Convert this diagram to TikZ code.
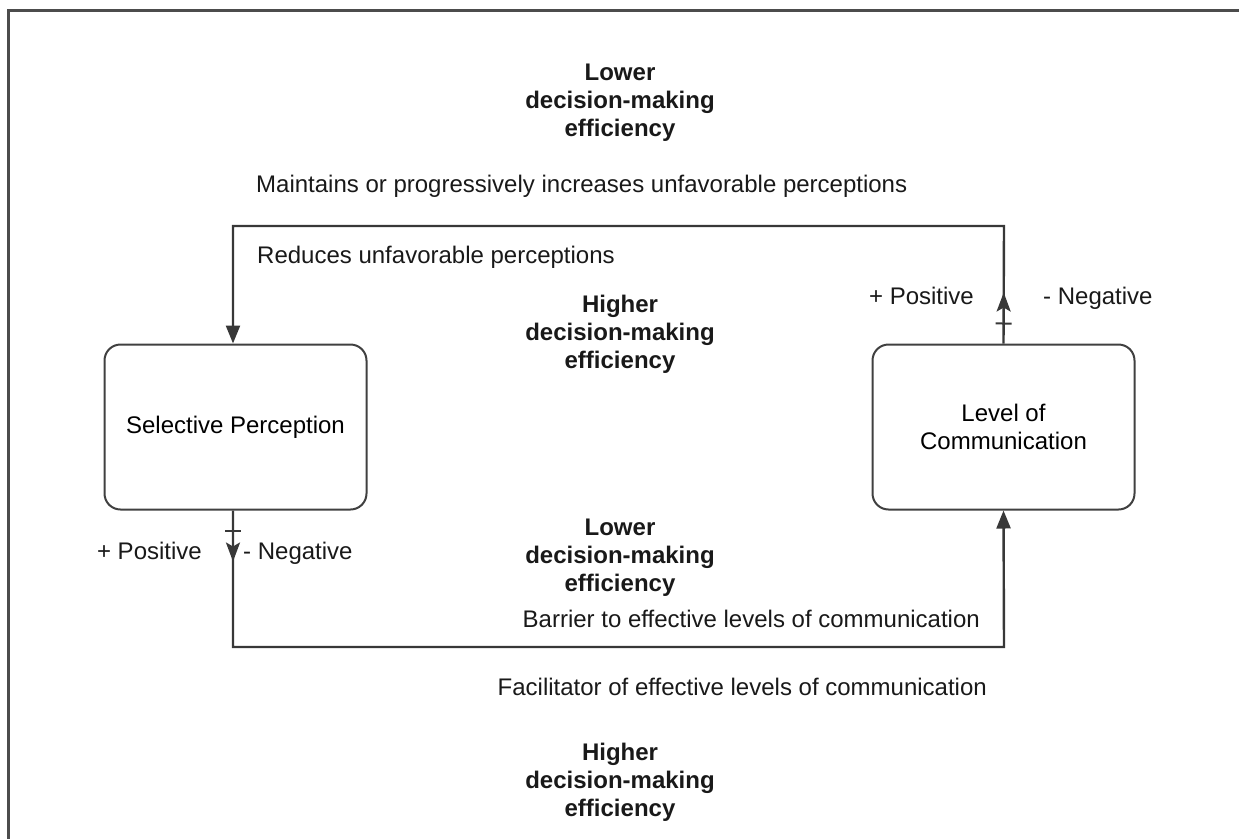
\documentclass[tikz,border=0pt]{standalone}
\usepackage{fontspec}
\setmainfont{Liberation Sans}
\usetikzlibrary{arrows.meta,decorations.markings}

\tikzset{
  box/.style={draw=black!75, line width=2pt, rounded corners=16pt, fill=white,
    minimum width=262pt, minimum height=165pt, align=center, inner sep=0pt,
    font=\fontsize{24}{28}\selectfont},
  lbl/.style={inner sep=0pt, font=\fontsize{24}{28}\selectfont, text=black!90},
  effect/.style={inner sep=0pt, align=center, font=\fontsize{24}{28}\selectfont\bfseries, text=black!90},
  loopline/.style={draw=black!78, line width=2.4pt, line join=miter},
  endtip/.style={-{Triangle[length=18pt,width=14pt]}},
  signmark/.style={postaction={decorate}, decoration={markings,
    mark=at position 20pt with {\draw[-, line width=2pt, black!78] (0pt,-8pt) -- (0pt,8pt);},
    mark=at position 51pt with {\arrow{Stealth[length=19pt,width=14pt,inset=4pt]}}}}
}

\begin{document}
\begin{tikzpicture}[x=1pt, y=-1pt]
  \useasboundingbox (0,0) rectangle (1239,838);

  % open frame along the top and left edges
  \draw[black!70, line width=3pt] (8,840) -- (8,10) -- (1241,10);

  % the two variables
  \node[box] (sp) at (235.5,427) {Selective Perception};
  \node[box] (lc) at (1003.5,427) {Level of\\Communication};

  % upper feedback loop: communication -> perception
  \coordinate (tr) at (1004,226);
  \coordinate (tl) at (233,226);
  \path[loopline, endtip, signmark] (lc.north) -- (tr) -- (tl) -- (tl |- sp.north);

  % lower feedback loop: perception -> communication
  \coordinate (bl) at (233,647);
  \coordinate (br) at (1004,647);
  \path[loopline, endtip, signmark] (bl |- sp.south) -- (bl) -- (br) -- (lc.south);

  % outcome labels
  \node[effect] (e1) at (620,103) {Lower\\decision-making\\efficiency};
  \node[effect] (e2) at (620,334) {Higher\\decision-making\\efficiency};
  \node[effect] (e3) at (620,558) {Lower\\decision-making\\efficiency};
  \node[effect] (e4) at (620,782) {Higher\\decision-making\\efficiency};

  % path descriptions
  \node[lbl, anchor=base west] (t1) at (256,192) {Maintains or progressively increases unfavorable perceptions};
  \node[lbl, anchor=base west] (t2) at (257,263) {Reduces unfavorable perceptions};
  \node[lbl, anchor=base east] (t3) at (980,627) {Barrier to effective levels of communication};
  \node[lbl, anchor=base east] (t4) at (987,695) {Facilitator of effective levels of communication};

  % signs of the links
  \node[lbl, anchor=base east] (p1) at (974,304) {+ Positive};
  \node[lbl, anchor=base west] (n1) at (1043,304) {- Negative};
  \node[lbl, anchor=base east] (p2) at (202,559) {+ Positive};
  \node[lbl, anchor=base west] (n2) at (243,559) {- Negative};
\end{tikzpicture}
\end{document}
